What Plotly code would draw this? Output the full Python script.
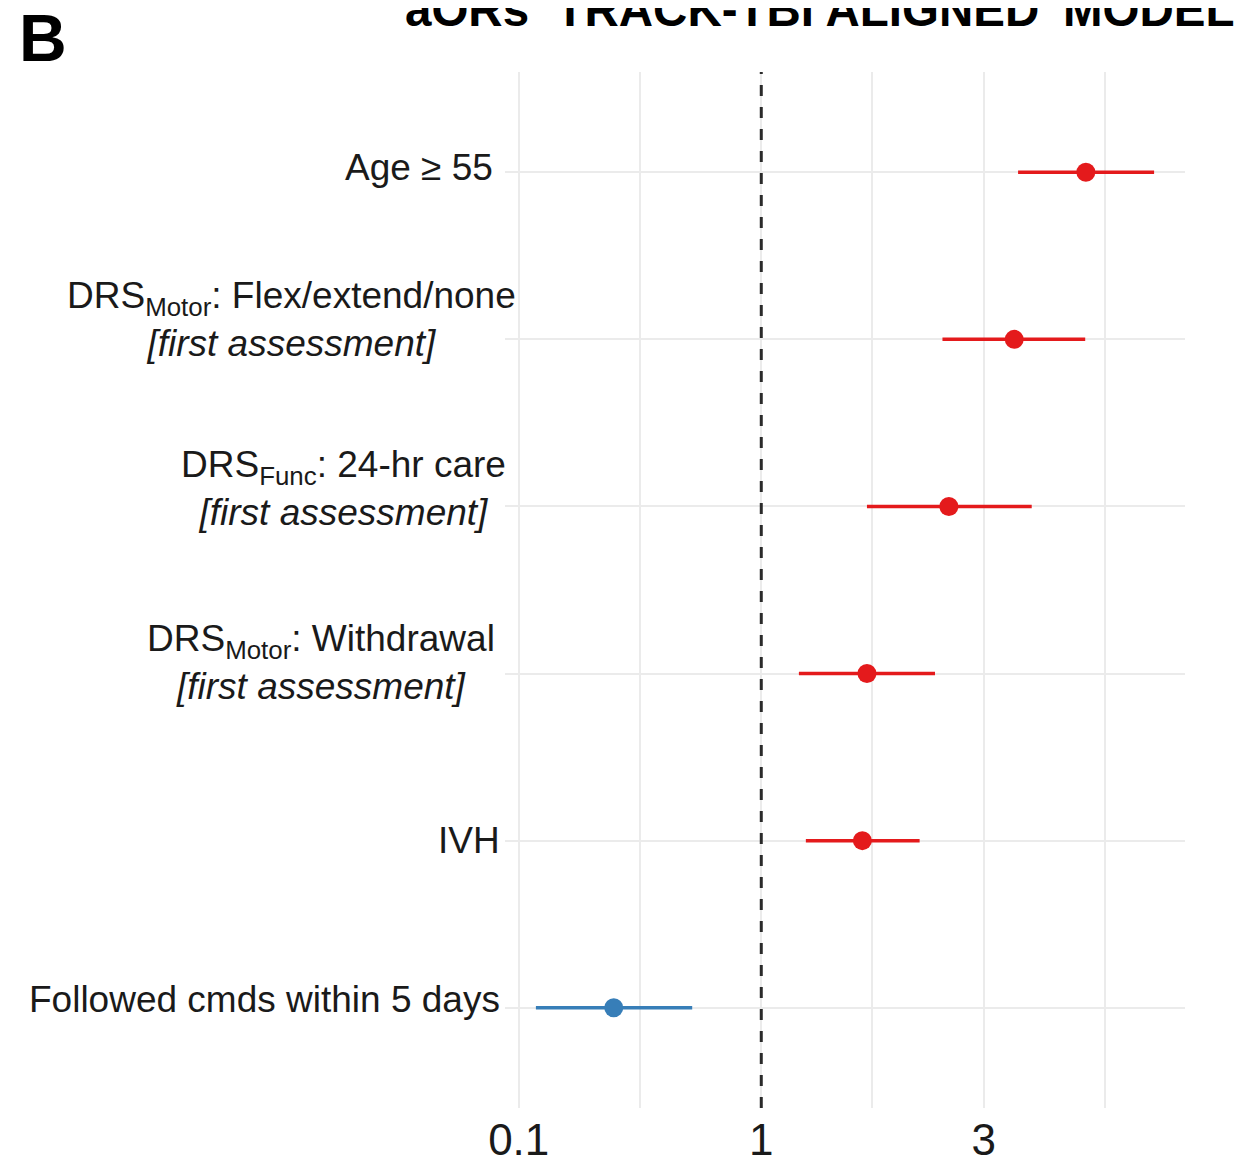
import numpy as np
import plotly.graph_objects as go

# ---------------- data ----------------
row_labels = [
    "Age ≥ 55",
    "DRS<sub>Motor</sub>: Flex/extend/none<br><i>[first assessment]</i>",
    "DRS<sub>Func</sub>: 24-hr care<br><i>[first assessment]</i>",
    "DRS<sub>Motor</sub>: Withdrawal<br><i>[first assessment]</i>",
    "IVH",
    "Followed cmds within 5 days",
]
aor = [4.38, 3.38, 2.60, 1.79, 1.75, 0.32]
ci_low = [3.43, 2.53, 1.79, 1.25, 1.30, 0.129]
ci_high = [5.48, 4.37, 3.61, 2.45, 2.29, 0.625]
tick_values = [0.1, 1, 3]
tick_labels = ["0.1", "1", "3"]
title_text = "aORs ‘TRACK-TBI ALIGNED’ MODEL"
panel_letter = "B"

# ---------------- scale (power transform of the OR axis) ----------------
POWER = 0.4


def tx(v):
    return np.power(np.asarray(v, dtype=float), POWER)


RED = "#E41A1C"
BLUE = "#377EB8"
FONT = "Liberation Sans, Arial, Helvetica, sans-serif"

n = len(row_labels)
ypos = np.arange(n, 0, -1)  # top row first

fig = go.Figure()
for i in range(n):
    col = RED if aor[i] > 1 else BLUE
    xc = float(tx(aor[i]))
    fig.add_trace(go.Scatter(
        x=[xc], y=[ypos[i]], mode="markers",
        marker=dict(color=col, size=19, line=dict(width=0)),
        error_x=dict(type="data", symmetric=False,
                     array=[float(tx(ci_high[i])) - xc],
                     arrayminus=[xc - float(tx(ci_low[i]))],
                     color=col, thickness=3.5, width=0),
        showlegend=False, hoverinfo="skip",
    ))

# axis range like ggplot (5% expansion)
lo = float(tx(min(ci_low)))
hi = float(tx(max(ci_high)))
pad = 0.05 * (hi - lo)
xr = [lo - pad, hi + pad]

tv = tx(tick_values)
d0 = tv[1] - tv[0]
minor_vals = [(tv[0] + tv[1]) / 2, (tv[1] + tv[2]) / 2, tv[2] + d0 / 2]

GRID = "#EBEBEB"

# geometry (screen pixels; page draws figure at an 8px offset)
OFF = 8
W, H = 1235, 1152
L, R, T, B = 505 - OFF, 1185 - OFF, 72 - OFF, 1108 - OFF


def py(p):  # screen pixel from top -> paper y
    return 1 + (T - (p - OFF)) / (B - T)


def px(p):  # screen pixel from left -> paper x
    return ((p - OFF) - L) / (R - L)


fig.update_layout(
    width=W, height=H,
    margin=dict(l=L, r=W - R, t=T, b=H - B, pad=0, autoexpand=False),
    plot_bgcolor="white", paper_bgcolor="white",
    font=dict(family=FONT, color="black"),
    xaxis=dict(
        range=xr, tickmode="array", tickvals=list(tv), ticktext=tick_labels,
        showgrid=True, gridcolor=GRID, gridwidth=1.6,
        minor=dict(tickmode="array", tickvals=minor_vals, showgrid=True,
                   gridcolor=GRID, gridwidth=1.6),
        zeroline=False, showline=False, ticks="", automargin=False,
        tickfont=dict(size=44, family=FONT, color="#1a1a1a"),
        ticklabelstandoff=2,
    ),
    yaxis=dict(
        range=[0.4, n + 0.6], tickmode="array", tickvals=list(ypos),
        showticklabels=False, showgrid=True, gridcolor=GRID, gridwidth=1.6,
        zeroline=False, showline=False, ticks="", automargin=False,
    ),
)

# reference line at OR = 1
fig.add_shape(type="line", xref="x", yref="paper",
              x0=float(tx(1)), x1=float(tx(1)), y0=0, y1=1,
              line=dict(color="#2a2a2a", width=3, dash="11px,11px"))

# row labels (centered multiline blocks, right-anchored at panel edge)
label_xshift = [-10, 13, 3, -8, -3, -3]
label_yshift = [5, 20, 18, 11, 0, 8]
for i in range(n):
    fig.add_annotation(
        x=0, xref="paper", y=ypos[i], yref="y",
        text=row_labels[i], showarrow=False,
        xanchor="right", yanchor="middle", align="center",
        xshift=label_xshift[i], yshift=label_yshift[i],
        font=dict(size=37, family=FONT, color="#1a1a1a"),
    )

# title (partially cut at top of canvas)
fig.add_annotation(
    x=px(403), xref="paper", y=py(9), yref="paper",
    text="<b>" + title_text + "</b>", showarrow=False,
    xanchor="left", yanchor="middle",
    font=dict(size=47.5, family=FONT, color="black"),
)
# panel letter
fig.add_annotation(
    x=px(17), xref="paper", y=py(37.5), yref="paper",
    text="<b>" + panel_letter + "</b>", showarrow=False,
    xanchor="left", yanchor="middle",
    font=dict(size=66, family=FONT, color="black"),
)

fig.write_html("out.html")
